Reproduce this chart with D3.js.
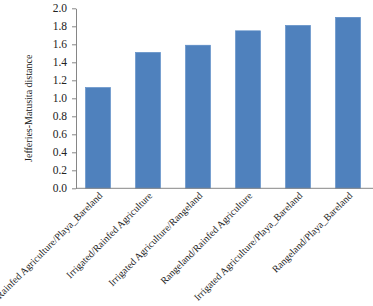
<!DOCTYPE html>
<html>
<head>
<style>
body {margin: 0; background: #fff;}
text {font-family: "Liberation Serif", "Times New Roman", serif; fill: #222;}
</style>
<script src="https://cdnjs.cloudflare.com/ajax/libs/d3/7.8.5/d3.min.js"></script>
</head>
<body>
<div id="chart-container"></div>
<script>
    const pairs = [
        "Rainfed Agriculture/Playa_Bareland",
        "Irrigated/Rainfed Agriculture",
        "Irrigated Agriculture/Rangeland",
        "Rangeland/Rainfed Agriculture",
        "Irrigated Agriculture/Playa_Bareland",
        "Rangeland/Playa_Bareland"
    ];
    const jmDistance = [1.12, 1.51, 1.59, 1.75, 1.81, 1.90];
    const yTicks = [0, 0.2, 0.4, 0.6, 0.8, 1.0, 1.2, 1.4, 1.6, 1.8, 2.0];

    const width = 373, height = 306;
    const axisX = 76;
    const plotTop = 8.3, plotBottom = 188.3;

    const svg = d3.select("#chart-container")
        .append("svg")
        .attr("width", width)
        .attr("height", height);

    const x = d3.scaleBand()
        .domain(pairs)
        .range([73, 373])
        .paddingInner(0.5)
        .paddingOuter(0.25);

    const y = d3.scaleLinear()
        .domain([0, 2])
        .range([plotBottom, plotTop]);

    // bars
    svg.append("g")
        .selectAll("rect")
        .data(pairs)
        .join("rect")
            .attr("x", d => x(d))
            .attr("y", (d, i) => y(jmDistance[i]))
            .attr("width", x.bandwidth())
            .attr("height", (d, i) => y(0) - y(jmDistance[i]))
            .style("fill", "#4F81BD")
            .style("stroke", "#5B8BC6")
            .style("stroke-width", 0.6);

    // y axis
    const yAxis = svg.append("g")
        .attr("transform", `translate(${axisX},0)`)
        .call(d3.axisLeft(y).tickValues(yTicks).tickFormat(d3.format(".1f")).tickSize(4).tickSizeOuter(0).tickPadding(5));
    yAxis.selectAll("path, line").attr("stroke", "#868686");
    yAxis.selectAll("text").style("font-size", "11.5px").style("font-family", "Liberation Serif").attr("fill", "#222");

    // x axis line
    svg.append("line")
        .attr("x1", axisX).attr("x2", 373)
        .attr("y1", y(0)).attr("y2", y(0))
        .attr("stroke", "#868686");

    // category labels
    svg.append("g")
        .selectAll("text")
        .data(pairs)
        .join("text")
            .attr("transform", d => `translate(${x(d) + x.bandwidth() / 2 + 5},${y(0) + 8}) rotate(-45)`)
            .attr("text-anchor", "end")
            .style("font-size", "10px")
            .text(d => d);

    // y title
    svg.append("text")
        .attr("transform", `translate(32,${(plotTop + plotBottom) / 2 + 10}) rotate(-90)`)
        .attr("text-anchor", "middle")
        .style("font-size", "10px")
        .text("Jefferies-Matusita distance");
</script>
</body>
</html>
